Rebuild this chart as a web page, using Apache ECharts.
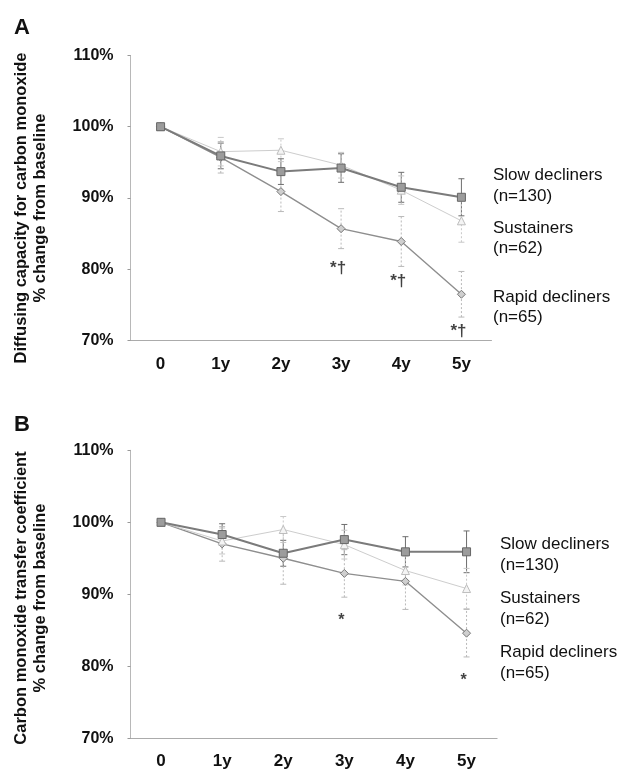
<!DOCTYPE html>
<html><head><meta charset="utf-8">
<script src="https://cdn.jsdelivr.net/npm/echarts@6/dist/echarts.min.js"></script>
<style>html,body{margin:0;padding:0;background:#fff}#c{width:619px;height:778px}</style>
</head><body><div id="c"></div>
<script>
// ---- data ----
const timepoints = ['0', '1y', '2y', '3y', '4y', '5y'];
const yMin = 70, yMax = 110, yStep = 10;
const groupNames = ['Slow decliners', 'Sustainers', 'Rapid decliners'];
const groupNs = ['(n=130)', '(n=62)', '(n=65)'];
const panelLetters = ['A', 'B'];
const yTitlesA = ['Diffusing capacity for carbon monoxide', '% change from baseline'];
const yTitlesB = ['Carbon monoxide transfer coefficient', '% change from baseline'];

// Panel A: DLCO, % of baseline (mean, error half-width)
const slowA = [100, 95.9, 93.7, 94.2, 91.5, 90.1];
const slowErrA = [0, 1.8, 1.8, 2.0, 2.1, 2.6];
const sustA = [100, 96.5, 96.7, 94.6, 91.1, 86.8];
const sustErrA = [0, 2.0, 1.6, 1.8, 2.0, 3.0];
const rapidA = [100, 95.7, 90.9, 85.7, 83.9, 76.5];
const rapidErrA = [0, 2.2, 2.8, 2.8, 3.5, 3.2];
const notesA = [[3, 80.2, '*\u2020'], [4, 78.3, '*\u2020'], [5, 71.3, '*\u2020']];

// Panel B: KCO, % of baseline
const slowB = [100, 98.3, 95.7, 97.6, 95.9, 95.9];
const slowErrB = [0, 1.5, 1.8, 2.1, 2.1, 2.9];
const sustB = [100, 97.4, 99.0, 96.9, 93.3, 90.8];
const sustErrB = [0, 1.8, 1.8, 2.0, 2.0, 2.8];
const rapidB = [100, 97.0, 95.0, 92.9, 91.8, 84.6];
const rapidErrB = [0, 2.4, 3.6, 3.3, 3.9, 3.3];
const notesB = [[3, 86.3, '*'], [5, 78.0, '*']];

// ---- styles ----
const FONT = '"Liberation Sans", Arial, Helvetica, sans-serif';
const styles = [
  {line: '#7b7b7b', width: 2, symbol: 'rect', size: 8, fill: '#9c9c9c', border: '#666', err: '#6e6e6e', dash: null},
  {line: '#cdcdcd', width: 1, symbol: 'triangle', size: 8, fill: '#f4f4f4', border: '#bdbdbd', err: '#c8c8c8', dash: [2, 2]},
  {line: '#8e8e8e', width: 1.4, symbol: 'diamond', size: 8, fill: '#cfcfcf', border: '#777', err: '#b9b9b9', dash: [2, 2]}
];

function errRender(st) {
  return function (params, api) {
    const x = api.value(0), lo = api.value(1), hi = api.value(2);
    if (!(hi > lo)) return null;
    const p1 = api.coord([x, lo]), p2 = api.coord([x, hi]);
    const cap = 3;
    return {type: 'group', children: [
      {type: 'line', shape: {x1: p1[0], y1: p1[1], x2: p2[0], y2: p2[1]},
        style: {stroke: st.err, lineWidth: 1, lineDash: st.dash}},
      {type: 'line', shape: {x1: p1[0] - cap, y1: p1[1], x2: p1[0] + cap, y2: p1[1]},
        style: {stroke: st.err, lineWidth: 1}},
      {type: 'line', shape: {x1: p2[0] - cap, y1: p2[1], x2: p2[0] + cap, y2: p2[1]},
        style: {stroke: st.err, lineWidth: 1}}
    ]};
  };
}

function panelSeries(idx, groups, notes, noteFont) {
  const out = [];
  // error bars first (below lines)
  groups.forEach((g, k) => {
    const st = styles[k];
    out.push({
      type: 'custom', xAxisIndex: idx, yAxisIndex: idx, z: 2,
      renderItem: errRender(st),
      data: g.mean.map((m, i) => [i, m - g.err[i], m + g.err[i]]),
      silent: true
    });
  });
  // lines: draw rapid, sustainers, then slow on top
  [2, 1, 0].forEach(k => {
    const st = styles[k], g = groups[k];
    out.push({
      type: 'line', name: groupNames[k], xAxisIndex: idx, yAxisIndex: idx, z: 3 + (2 - k),
      data: g.mean, symbol: st.symbol, symbolSize: st.size, showSymbol: true,
      lineStyle: {color: st.line, width: st.width},
      itemStyle: {color: st.fill, borderColor: st.border, borderWidth: 1},
      animation: false
    });
  });
  out.push({
    type: 'scatter', xAxisIndex: idx, yAxisIndex: idx, symbolSize: 0, z: 10,
    data: notes.map(n => ({value: [n[0], n[1]], label: {formatter: n[2]}})),
    label: {show: true, position: 'inside', offset: [-3, 0], color: '#111',
      fontFamily: FONT, fontWeight: 'bold', fontSize: noteFont}
  });
  return out;
}

const grids = [
  {left: 130.5, top: 55.4, width: 361, height: 285.2},
  {left: 130.5, top: 450.3, width: 366.6, height: 288}
];

function xAx(i) {
  return {type: 'category', gridIndex: i, data: timepoints, boundaryGap: true,
    axisLine: {lineStyle: {color: '#ababab', width: 1}}, axisTick: {show: false},
    axisLabel: {margin: 15, color: '#111', fontFamily: FONT, fontWeight: 'bold', fontSize: 17},
    splitLine: {show: false}};
}
function yAx(i) {
  return {type: 'value', gridIndex: i, min: yMin, max: yMax, interval: yStep,
    axisLine: {show: true, lineStyle: {color: '#b8b8b8', width: 1}},
    axisTick: {show: true, length: 3, lineStyle: {color: '#999'}},
    axisLabel: {margin: 17, color: '#111', fontFamily: FONT, fontWeight: 'bold', fontSize: 16,
      formatter: '{value}%'},
    splitLine: {show: false}};
}

function txt(x, y, s, size, weight, align, rot) {
  return {type: 'text', x: x, y: y, rotation: rot || 0, silent: true,
    style: {text: s, fill: '#111', font: (weight || 'normal') + ' ' + size + 'px ' + FONT,
      align: align || 'left', verticalAlign: 'middle',
      textAlign: align || 'left', textVerticalAlign: 'middle'}};
}

const legendYA = [[175, 196], [228, 248], [297, 317]];
const legendYB = [[544, 565], [598, 619], [652, 673]];
const graphics = [
  txt(14, 28, panelLetters[0], 22, 'bold'),
  txt(14, 425, panelLetters[1], 22, 'bold'),
  txt(21, 208, yTitlesA[0], 16.5, 'bold', 'center', Math.PI / 2),
  txt(40, 208, yTitlesA[1], 16.5, 'bold', 'center', Math.PI / 2),
  txt(21, 598, yTitlesB[0], 16.5, 'bold', 'center', Math.PI / 2),
  txt(40, 598, yTitlesB[1], 16.5, 'bold', 'center', Math.PI / 2)
];
groupNames.forEach((n, k) => {
  graphics.push(txt(493, legendYA[k][0], n, 17, 'normal'));
  graphics.push(txt(493, legendYA[k][1], groupNs[k], 17, 'normal'));
  graphics.push(txt(500, legendYB[k][0], n, 17, 'normal'));
  graphics.push(txt(500, legendYB[k][1], groupNs[k], 17, 'normal'));
});

const groupsA = [{mean: slowA, err: slowErrA}, {mean: sustA, err: sustErrA}, {mean: rapidA, err: rapidErrA}];
const groupsB = [{mean: slowB, err: slowErrB}, {mean: sustB, err: sustErrB}, {mean: rapidB, err: rapidErrB}];

const chart = echarts.init(document.getElementById('c'), null, {renderer: 'canvas'});
chart.setOption({
  animation: false,
  backgroundColor: '#fff',
  grid: grids,
  xAxis: [xAx(0), xAx(1)],
  yAxis: [yAx(0), yAx(1)],
  graphic: graphics,
  series: [].concat(panelSeries(0, groupsA, notesA, 17), panelSeries(1, groupsB, notesB, 16))
});
</script></body></html>
